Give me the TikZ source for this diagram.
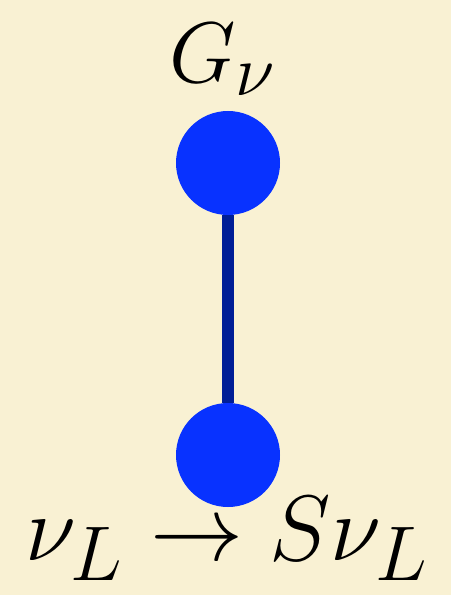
\documentclass[tikz,border=0pt]{standalone}
\usepackage{amsmath, amssymb}
\usepackage{xcolor}
\usepackage{tikz}
\usetikzlibrary{positioning, calc}
\definecolor{paper}{HTML}{F9F1D3}
\definecolor{dotblue}{HTML}{0832FF}
\definecolor{linkblue}{HTML}{001E96}

\begin{document}
\begin{tikzpicture}[
  dot/.style={circle, fill=dotblue, minimum size=2.08cm, inner sep=0pt},
  link/.style={line width=6.8pt, color=linkblue},
  lbl/.style={anchor=base, inner sep=0pt, font=\Huge, scale=1.97}
]
  % background sheet
  \fill[paper] (0,0) rectangle (9.02,-11.9);
  \useasboundingbox (0,0) rectangle (9.02,-11.9);

  \node[dot] (gnu) at (4.56,-3.26) {};
  \node[dot] (nul) at (4.56,-9.10) {};
  \draw[link] (gnu) -- (nul);

  \node[lbl] (top) at (4.46,-1.66) {$G_\nu$};
  \node[lbl, scale=1.08] (bot) at (4.55,-11.2) {$\nu_L \to S\nu_L$};
\end{tikzpicture}
\end{document}
